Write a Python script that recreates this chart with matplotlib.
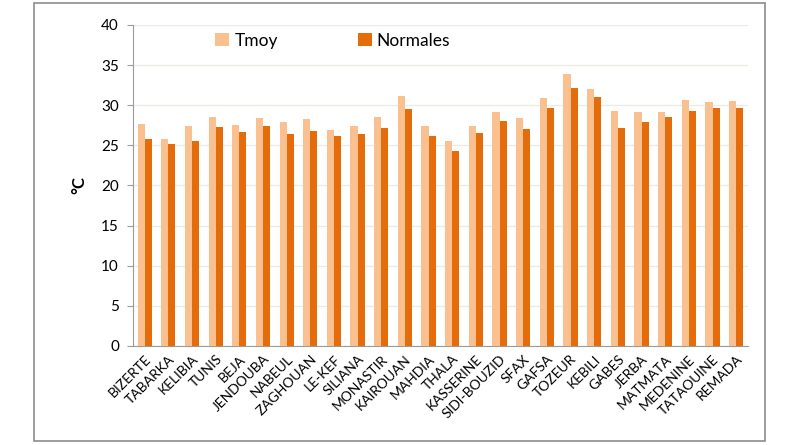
import matplotlib
matplotlib.use("Agg")
import matplotlib.pyplot as plt
import numpy as np
from matplotlib.patches import Rectangle

plt.rcParams['font.family'] = ['Lato', 'DejaVu Sans']

stations = ["BIZERTE", "TABARKA", "KELIBIA", "TUNIS", "BEJA", "JENDOUBA", "NABEUL",
            "ZAGHOUAN", "LE-KEF", "SILIANA", "MONASTIR", "KAIROUAN", "MAHDIA", "THALA",
            "KASSERINE", "SIDI-BOUZID", "SFAX", "GAFSA", "TOZEUR", "KEBILI", "GABES",
            "JERBA", "MATMATA", "MEDENINE", "TATAOUINE", "REMADA"]
tmoy = [27.6, 25.8, 27.4, 28.5, 27.5, 28.4, 27.9, 28.3, 26.9, 27.4, 28.5, 31.2, 27.4,
        25.6, 27.4, 29.2, 28.4, 30.9, 33.9, 32.0, 29.3, 29.1, 29.2, 30.7, 30.4, 30.5]
normales = [25.8, 25.2, 25.6, 27.3, 26.7, 27.4, 26.4, 26.8, 26.2, 26.4, 27.1, 29.5, 26.1,
            24.3, 26.5, 28.0, 27.0, 29.7, 32.2, 31.0, 27.2, 27.9, 28.5, 29.3, 29.6, 29.7]

fig = plt.figure(figsize=(8, 4.45), dpi=100)
# outer frame like the original screenshot
fig.patches.append(Rectangle((0.0425, 0.009), 0.914, 0.984, transform=fig.transFigure,
                             fill=False, edgecolor="#8c8c8c", linewidth=1.2))
ax = fig.add_axes([0.166, 0.2225, 0.769, 0.7215])

x = np.arange(len(stations))
w = 0.3
ax.bar(x - w/2, tmoy, w, color="#FAC090", label="Tmoy", zorder=3)
ax.bar(x + w/2, normales, w, color="#E46C0A", label="Normales", zorder=3)

ax.set_ylim(0, 40)
ax.set_xlim(-0.5, len(stations) - 0.5)
ax.set_yticks(range(0, 41, 5))
ax.yaxis.grid(True, color="#EBEBE3", linewidth=1, zorder=0)
ax.set_xticks(x)
ax.set_xticklabels(stations, rotation=45, ha="right", rotation_mode="anchor", fontsize=10)
ax.tick_params(axis="x", length=0, pad=5)
ax.tick_params(axis="y", labelsize=11, length=4, color="#9a9a9a", pad=6)
for s in ["top", "right"]:
    ax.spines[s].set_visible(False)
ax.spines["left"].set_color("#9a9a9a")
ax.spines["bottom"].set_color("#9a9a9a")
ax.set_ylabel("°C", fontsize=12, fontweight="bold", labelpad=10)

ax.legend(loc="upper center", bbox_to_anchor=(0.325, 1.025), ncol=2, frameon=False,
          fontsize=12.5, handlelength=0.8, handleheight=0.8, handletextpad=0.3,
          columnspacing=4.6)

fig.savefig("out.png", dpi=100)
